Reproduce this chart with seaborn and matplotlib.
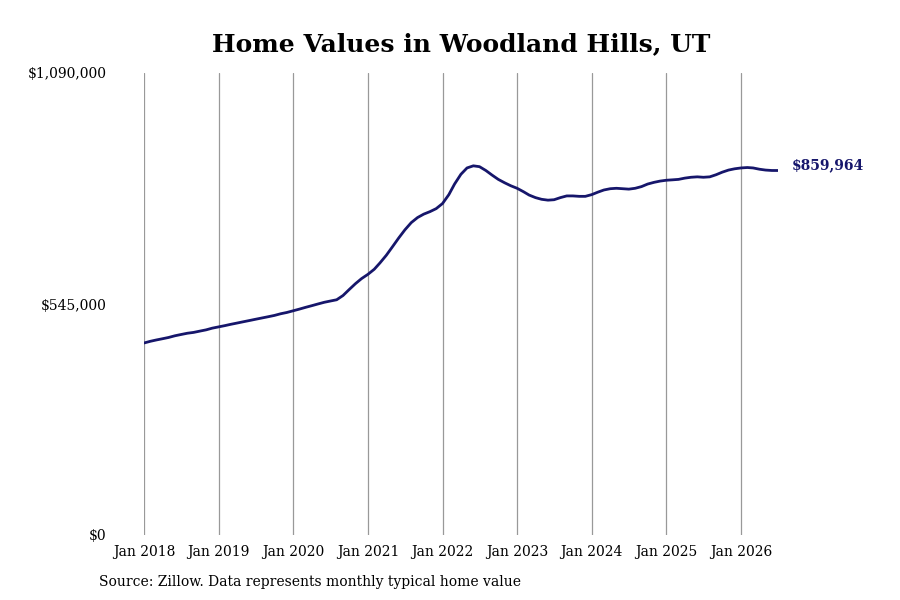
import matplotlib.pyplot as plt
import matplotlib.dates as mdates
import matplotlib.ticker as mticker
import pandas as pd
import seaborn as sns

sns.set_style("white")
plt.rcParams['font.family'] = ['DejaVu Serif']
plt.rcParams['text.color'] = 'black'
plt.rcParams['xtick.color'] = 'black'
plt.rcParams['ytick.color'] = 'black'

# monthly typical home value, Jan 2018 - Jul 2026
values = [
    453000, 457000, 460000, 463000, 466000, 470000, 473000, 476000, 478000, 481000, 484000, 488000,
    491000, 494000, 497000, 500000, 503000, 506000, 509000, 512000, 515000, 518000, 522000, 525000,
    529000, 533000, 537000, 541000, 545000, 549000, 552000, 555000, 565000, 579000, 593000, 605000,
    615000, 627000, 642000, 660000, 680000, 701000, 720000, 737000, 749000, 757000, 763000, 770000,
    782000, 803000, 828000, 851000, 866000, 871000, 869000, 860000, 849000, 839000, 831000, 824000,
    818000, 810000, 802000, 796000, 792000, 790000, 791000, 796000, 800000, 800000, 799000, 799000,
    803000, 809000, 814000, 817000, 818000, 817000, 816000, 818000, 822000, 828000, 832000, 835000,
    837000, 838000, 839000, 842000, 844000, 845000, 844000, 845000, 850000, 856000, 861000, 864000,
    866000, 867000, 866000, 863000, 861000, 860000, 859964,
]
dates = pd.date_range("2018-01-01", periods=len(values), freq="MS")
df = pd.DataFrame({"date": dates, "value": values})

title = "Home Values in Woodland Hills, UT"
source = "Source: Zillow. Data represents monthly typical home value"
line_color = "#16166b"

fig = plt.figure(figsize=(9, 6), dpi=100)
ax = fig.add_axes([144 / 900, 65 / 600, (778 - 144) / 900, 462 / 600])

sns.lineplot(data=df, x="date", y="value", ax=ax, color=line_color, linewidth=2)

ax.set_xlim(dates[0], dates[-1])
ax.set_ylim(0, 1090000)
ax.set_yticks([0, 545000, 1090000])
ax.yaxis.set_major_formatter(mticker.FuncFormatter(lambda v, p: f"${v:,.0f}"))
ax.xaxis.set_major_locator(mdates.YearLocator())
ax.xaxis.set_major_formatter(mdates.DateFormatter("%b %Y"))
ax.grid(axis="x", color="#999999", linewidth=0.9)
ax.grid(axis="y", visible=False)
ax.tick_params(axis="y", length=0, pad=27, labelsize=10)
ax.tick_params(axis="x", length=5, color="#999999", pad=2, labelsize=10)
ax.set_xlabel("")
ax.set_ylabel("")
for s in ax.spines.values():
    s.set_visible(False)

ax.annotate(f"${values[-1]:,}", xy=(dates[-1], values[-1]), xytext=(10, 4),
            textcoords="offset points", va="center", ha="left",
            fontsize=10, fontweight="bold", color=line_color)

fig.text(0.512, 1 - 44 / 600, title, ha="center", va="center", fontsize=18,
         fontweight="bold", color="black")
fig.text(99 / 900, 1 - 582 / 600, source, ha="left", va="center", fontsize=10, color="black")

fig.savefig("out.png", dpi=100)
